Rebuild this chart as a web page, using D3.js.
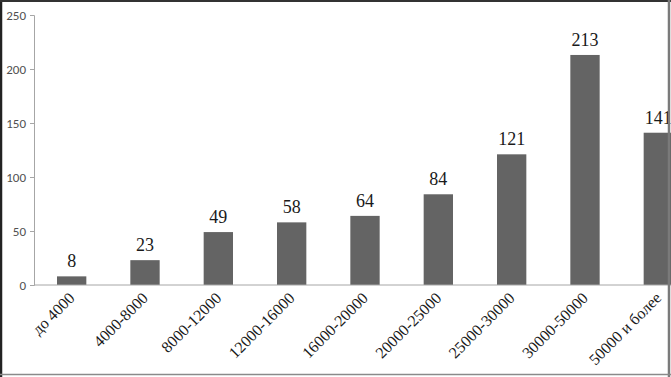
<!DOCTYPE html>
<html>
<head>
<meta charset="utf-8">
<script src="https://cdn.jsdelivr.net/npm/d3@7"></script>
<style>
  body { margin: 0; background: #fff; }
  svg { display: block; }
  .serif { font-family: 'Liberation Serif', 'Times New Roman', 'DejaVu Serif', serif; }
</style>
</head>
<body>
<svg id="chart" width="671" height="377"></svg>
<script>
// Data
const categories = ['до 4000', '4000-8000', '8000-12000', '12000-16000', '16000-20000',
  '20000-25000', '25000-30000', '30000-50000', '50000 и более'];
const values = [8, 23, 49, 58, 64, 84, 121, 213, 141];
const yTicks = [0, 50, 100, 150, 200, 250];

const svg = d3.select('#chart');
const W = 671, H = 377;

// Scales (plot area runs past the right edge, as in the cropped original)
const x = d3.scaleBand().domain(categories).range([35, 695]).paddingInner(0.6).paddingOuter(0.3);
const y = d3.scaleLinear().domain([0, 250]).range([285, 15]);

// y axis
const yAxis = svg.append('g')
  .attr('transform', 'translate(34,0)')
  .call(d3.axisLeft(y).tickValues(yTicks).tickSize(4).tickPadding(4));
yAxis.select('.domain').attr('stroke', '#a6a6a6');
yAxis.selectAll('.tick line').attr('stroke', '#a6a6a6');
yAxis.selectAll('.tick text')
  .attr('fill', '#505050')
  .attr('font-family', 'Carlito, "Open Sans", sans-serif')
  .attr('font-size', 13);

// Bars
svg.append('g').selectAll('rect')
  .data(values)
  .join('rect')
  .attr('x', (d, i) => x(categories[i]))
  .attr('y', d => y(d))
  .attr('width', x.bandwidth())
  .attr('height', d => y(0) - y(d))
  .attr('fill', '#646464');

// x axis baseline
svg.append('line')
  .attr('x1', 34).attr('x2', W)
  .attr('y1', y(0)).attr('y2', y(0))
  .attr('stroke', '#a6a6a6');

// Value labels
svg.append('g').selectAll('text')
  .data(values)
  .join('text')
  .attr('class', 'serif')
  .attr('x', (d, i) => x(categories[i]) + x.bandwidth() / 2)
  .attr('y', d => y(d) - 9)
  .attr('text-anchor', 'middle')
  .attr('font-size', 18)
  .attr('fill', '#1a1a1a')
  .text(d => d);

// Category labels, rotated
svg.append('g').selectAll('text')
  .data(categories)
  .join('text')
  .attr('class', 'serif')
  .attr('transform', d => `translate(${x(d) + x.bandwidth() / 2 + 4},${y(0) + 14}) rotate(-45)`)
  .attr('text-anchor', 'end')
  .attr('font-size', 16)
  .attr('fill', '#1a1a1a')
  .text(d => d);

// Frame
svg.append('line').attr('x1', 1).attr('x2', 1).attr('y1', 0).attr('y2', H).attr('stroke', '#222').attr('stroke-width', 2.5);
svg.append('line').attr('x1', 0).attr('x2', W).attr('y1', 1).attr('y2', 1).attr('stroke', '#333').attr('stroke-width', 2);
svg.append('line').attr('x1', 669).attr('x2', 669).attr('y1', 0).attr('y2', H).attr('stroke', '#7a7a7a').attr('stroke-width', 2.5);
svg.append('line').attr('x1', 0).attr('x2', W).attr('y1', 374.5).attr('y2', 374.5).attr('stroke', '#8a8a8a').attr('stroke-width', 1.5);
</script>
</body>
</html>
